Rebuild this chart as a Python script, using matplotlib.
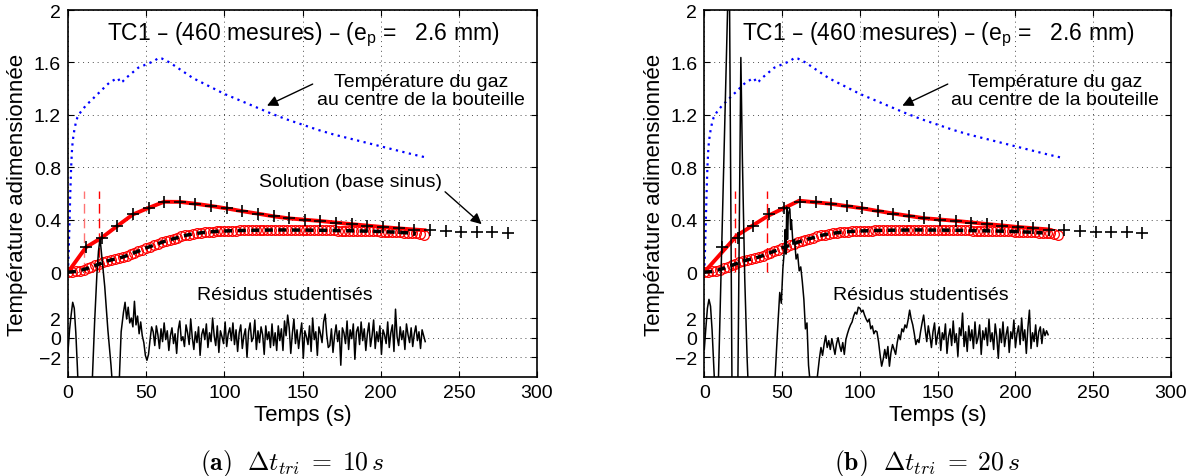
import matplotlib
matplotlib.use("Agg")
import matplotlib.pyplot as plt
import numpy as np

plt.rcParams['font.family'] = ['Liberation Sans', 'DejaVu Sans']

# gas temperature at bottle centre (blue dotted)
t_gaz = [0, 0.5, 1, 1.5, 2, 2.5, 3, 4, 5, 6, 8, 10, 12, 15, 18, 21, 24, 27, 30, 32,
         33.5, 35, 37, 40, 45, 50, 55, 58, 60, 65, 70, 75, 80, 90, 100, 110, 120,
         130, 140, 150, 160, 170, 180, 190, 200, 210, 220, 229]
T_gaz = [0, 0.18, 0.4, 0.62, 0.8, 0.92, 1.0, 1.08, 1.14, 1.18, 1.22, 1.25, 1.28, 1.31,
         1.35, 1.38, 1.42, 1.45, 1.47, 1.48, 1.445, 1.455, 1.48, 1.51, 1.56, 1.585,
         1.61, 1.635, 1.63, 1.6, 1.56, 1.52, 1.48, 1.42, 1.36, 1.31, 1.26, 1.21, 1.165,
         1.125, 1.085, 1.05, 1.02, 0.99, 0.96, 0.93, 0.9, 0.875]

# reference solution (black +)
t_plus = [11.5, 21.5, 31.5, 41.5, 51.5, 61.5, 71.5, 81.5, 91.5, 101.5, 111.5, 121.5,
          131.5, 141.5, 151.5, 161.5, 171.5, 181.5, 191.5, 201.5, 211.5, 221.5, 231.5,
          241.5, 251.5, 261.5, 271.5, 281.5]
T_plus = [0.19, 0.262, 0.352, 0.44, 0.49, 0.537, 0.536, 0.522, 0.505, 0.486, 0.465,
          0.446, 0.426, 0.41, 0.4, 0.39, 0.378, 0.366, 0.355, 0.344, 0.334, 0.325,
          0.318, 0.313, 0.309, 0.306, 0.304, 0.302]

# estimated solution (red line), panel a and b
t_sol_a = [0, 11.5, 21.5, 31.5, 41.5, 51.5, 61.5, 71.5, 81.5, 91.5, 101.5, 111.5, 121.5,
           131.5, 141.5, 151.5, 161.5, 171.5, 181.5, 191.5, 201.5, 211.5, 221.5, 228]
T_sol_a = [0, 0.19, 0.262, 0.352, 0.44, 0.49, 0.537, 0.536, 0.522, 0.505, 0.486, 0.465,
           0.446, 0.426, 0.41, 0.4, 0.39, 0.378, 0.366, 0.355, 0.344, 0.334, 0.325, 0.32]
t_sol_b = [0, 21, 41, 61, 81, 101, 121, 141, 161, 181, 201, 221]
T_sol_b = [0, 0.28, 0.43, 0.545, 0.522, 0.488, 0.448, 0.412, 0.392, 0.368, 0.345, 0.326]

# measurements (red circles), every 2.5 s
t_mes = np.arange(0, 230, 2.5)
T_mes = [0.000, 0.002, 0.006, 0.012, 0.020, 0.029, 0.040, 0.051, 0.062, 0.074,
         0.085, 0.093, 0.100, 0.107, 0.115, 0.126, 0.138, 0.149, 0.160, 0.172,
         0.185, 0.195, 0.205, 0.216, 0.228, 0.238, 0.247, 0.255, 0.263, 0.272,
         0.280, 0.286, 0.292, 0.296, 0.300, 0.304, 0.307, 0.309, 0.311, 0.313,
         0.314, 0.315, 0.316, 0.317, 0.318, 0.318, 0.319, 0.319, 0.320, 0.320,
         0.321, 0.321, 0.321, 0.322, 0.322, 0.322, 0.322, 0.322, 0.321, 0.321,
         0.321, 0.321, 0.320, 0.320, 0.320, 0.319, 0.319, 0.318, 0.318, 0.317,
         0.317, 0.316, 0.316, 0.315, 0.314, 0.314, 0.313, 0.312, 0.311, 0.311,
         0.310, 0.309, 0.307, 0.306, 0.305, 0.303, 0.301, 0.300, 0.298, 0.295,
         0.290, 0.284]

# studentized residuals, panel a
res_a_t = [0, 1, 2, 3, 4, 5, 6, 7, 8, 10, 12, 14, 15.5, 17, 18.5, 19.5, 20.5, 21.5,
           22.5, 23.5, 24.5, 25.5, 26.5, 27.5, 28.5, 30, 32, 33, 34, 35.5, 36.5, 37.5,
           38.5, 39.5, 40.5, 41.5, 42.5, 43.5, 44.5, 45.5, 46.5, 47.5, 48.5, 49.5,
           50.5, 51.5, 52.5, 53.5]
res_a_r = [-1.4, 0.8, 2.3, 3.6, 3.0, 0.5, -3, -7, -10, -12, -12, -9, -4.5, 1.5, 6.5,
           8.8, 10.1, 8.5, 6.8, 5.2, 3.0, 0.8, -1.0, -2.8, -5, -9, -8, -3.5, 0.6, 2.6,
           3.6, 1.9, 3.1, 1.5, 2.0, 1.1, 3.7, 1.3, 2.2, 0.4, 1.6, 0.2, -0.5, -1.8,
           -2.3, -1.7, -0.2, 1.1]
noise_a_t = np.arange(54.5, 229, 1.0)
noise_a_r = [0.6, -0.8, 1.2, 0.3, -1.1, 0.9, -0.4, 1.5, -0.2, 0.7,
             -1.3, 0.2, 1.0, -0.6, 0.4, -1.6, 0.8, 1.7, -0.3, 0.1,
             -0.9, 1.3, 0.5, -0.7, 1.9, 0.0, -1.2, 0.6, -0.5, 1.1,
             -1.8, 0.3, 0.9, -0.2, 1.4, -1.0, 0.5, -0.4, 2.0, 0.2,
             -0.8, 1.2, -1.5, 0.7, 0.1, -0.6, 1.6, -0.9, 0.4, 1.0,
             -0.3, 1.5, -0.7, 0.8, -1.4, 0.5, 1.3, -1.1, 0.2, 0.9,
             -2.0, 0.6, 1.5, -0.4, 0.0, 1.8, -1.2, 0.7, -0.5, 1.1,
             0.3, -1.7, 1.2, -0.2, 0.6, -1.0, 1.4, -0.8, 0.5, -1.3,
             1.2, -0.3, 0.9, -1.3, 1.7, 0.2, 2.3, 1.0, -1.6, 0.4,
             1.9, -0.6, 0.8, -1.1, 0.3, 1.5, -2.1, 0.7, 0.1, -0.7,
             1.2, -1.4, 2.0, -0.2, 0.6, -1.8, 1.1, 0.4, -0.5, 1.6,
             2.4, 0.3, -1.0, -0.8, 0.9, -1.5, 0.2, 1.3, -0.4, 0.7,
             -2.8, 1.0, 0.5, -0.6, 1.7, -1.2, 0.8, -0.1, 1.4, -2.2,
             0.6, 1.1, -0.7, 1.6, -0.3, 0.9, -1.3, 0.4, 1.5, -0.9,
             0.2, 1.8, -1.1, 0.6, -0.4, 1.2, -1.7, 0.8, 0.3, -0.6,
             1.6, -1.0, 0.5, 1.3, -1.4, 2.9, 0.1, -0.8, 1.1, -0.2,
             0.7, -1.2, 1.4, 0.3, -0.5, 1.0, -0.9, 0.4, 1.2, -0.3,
             0.6, -1.1, 0.8, 0.2, -0.4]

# studentized residuals, panel b
res_b_t = [0, 1, 2, 3, 4, 5, 6, 7, 8.5, 16, 18, 20, 21.5, 23, 23.5, 24.5, 26, 27.5, 29,
           32, 38, 43, 45.5, 47, 48.5, 49.5, 50.5, 51.5, 52, 52.5, 53, 53.5, 54, 55,
           55.5, 56, 57, 58, 59, 60, 61, 62, 63, 64, 65, 66, 67, 68, 70, 72.5, 74, 75,
           76, 77, 78, 79, 80, 81, 82, 83, 84, 85, 86, 87, 88, 89, 90, 91, 92, 93, 94,
           95, 96, 97, 98, 99, 100, 101, 102, 103, 104, 105, 106, 107, 108, 109, 110,
           111, 112, 113, 114, 115, 116, 117, 118, 119, 120, 121, 122, 123, 124, 125,
           126, 127, 128, 129, 130, 131, 132, 133, 134, 135, 136, 137, 138, 139, 140,
           141]
res_b_r = [-1.2, 1.0, 3.0, 3.9, 3.2, 0.8, -2.5, -6, -8, 40, -10, -12, -6, 20, 28.5, 18,
           6, -2, -8, -14, -14, -10, -4, 0.5, 4.6, 3.5, 7, 9, 11, 8.5, 13.3, 10, 12.6,
           13.1, 11, 12, 9.5, 10, 8, 8.5, 6.8, 7.2, 5.7, 3.9, 0.9, 1.5, -2.8, -4.5, -6,
           -4.2, -2.1, -1.0, -1.8, -0.7, 0.2, -1.0, -0.3, -1.2, -0.1, -0.9, -1.7, -0.6,
           0.0, -0.8, -1.4, -0.5, -1.7, -0.2, 0.4, 0.9, 1.3, 1.6, 2.2, 2.6, 2.4, 3.1,
           3.0, 2.6, 2.8, 2.3, 1.9, 1.6, 1.9, 0.9, 1.2, 0.4, 0.7, 0.6, -0.4, -1.75,
           -2.9, -2.2, -1.2, -2.1, -0.9, -2.9, -1.5, -0.7, -1.2, -1.7, -0.5, 0.3, -0.2,
           0.9, 0.6, 1.3, 1.0, 1.8, 2.8, 1.9, 1.3, 0.4, -0.7, -0.2, -0.5, 0.6, 1.5, 2.3]
noise_b_t = np.arange(142, 222, 1.0)
noise_b_r = [0.8, -0.4, 1.2, 0.2, -1.0, 0.6, 1.5, -0.7, 0.3, 1.1,
             -1.3, 0.5, -0.2, 1.4, -1.6, 0.1, 0.9, -0.8, 1.7, -0.5,
             0.4, -1.9, 1.0, 0.2, 2.5, -0.9, 0.6, -1.4, 1.2, -0.3,
             0.8, -1.1, 1.6, -0.6, 0.0, 1.3, -1.7, 0.7, -0.2, 1.0,
             -0.8, 1.9, -0.4, 0.5, -1.2, 1.4, 0.1, -2.1, 0.9, -0.5,
             1.6, -0.9, 0.3, 1.1, -1.5, 0.6, -0.1, 1.8, -1.0, 0.4,
             1.2, -0.7, 2.0, -0.3, 0.8, -1.6, 1.0, 2.8, -1.1, 0.5,
             -0.4, 1.3, -0.9, 0.6, 1.1, -0.6, 0.9, 0.2, 0.7, 0.3]

res_offset = -0.5
res_scale = 0.075


def draw_panel(ax, t_sol, T_sol, t_tri, res_t, res_r, mes_end, with_solution_label):
    ax.set_xlim(0, 300)
    ax.set_ylim(-0.8, 2)
    yt = [res_offset - 2 * res_scale, res_offset, res_offset + 2 * res_scale,
          0, 0.4, 0.8, 1.2, 1.6, 2]
    ax.set_yticks(yt)
    ax.set_yticklabels(['\u22122', '0', '2', '0', '0.4', '0.8', '1.2', '1.6', '2'])
    ax.set_xticks([0, 50, 100, 150, 200, 250, 300])
    ax.tick_params(direction='in', length=4, width=0.8, top=True, right=True,
                   labelsize=14, pad=5)
    ax.grid(True, color='0.3', linestyle=(0, (1, 4)), linewidth=0.7)
    ax.set_axisbelow(True)
    for s in ax.spines.values():
        s.set_linewidth(1.2)

    ax.plot(t_gaz, T_gaz, color='blue', linestyle=(0, (1, 2)), linewidth=1.6)

    for k, tv in enumerate(t_tri):
        ax.plot([tv, tv], [0, 0.62], color='red', linestyle=(0, (7, 3.6)), lw=1,
                alpha=0.55 if (k == 0 and with_solution_label) else 1)

    ax.plot(t_sol, T_sol, color='red', lw=2.8, solid_joinstyle='round')
    ax.plot(t_mes, T_mes, 'o', mfc='none', mec='red', ms=7, mew=0.9)
    n = int(mes_end / 2.5)
    ax.plot(t_mes[:n], T_mes[:n], color='black', linestyle=(0, (2.3, 1.6)), lw=2.5)
    ax.plot(t_plus, T_plus, '+', color='black', ms=8, mew=1.2)

    ax.plot(res_t, res_offset + res_scale * np.array(res_r), color='black', lw=1.1)

    ax.text(150.6, 1.78, "TC1 \u2013 (460 mesures) \u2013 (e$_\\mathregular{p}$ =   2.6 mm)",
            ha='center', va='baseline', fontsize=16.5)
    ax.text(225.7, 1.387, "Température du gaz\nau centre de la bouteille",
            ha='center', va='center', multialignment='center', fontsize=14,
            linespacing=1.1)
    ax.annotate('', xy=(127.3, 1.27), xytext=(156.5, 1.435),
                arrowprops=dict(arrowstyle='-|>', color='black', lw=1,
                                mutation_scale=16, shrinkA=0, shrinkB=0))
    if with_solution_label:
        ax.text(181, 0.656, "Solution (base sinus)", ha='center', va='baseline',
                fontsize=14)
        ax.annotate('', xy=(264.6, 0.366), xytext=(241.2, 0.613),
                    arrowprops=dict(arrowstyle='-|>', color='black', lw=1,
                                    mutation_scale=16, shrinkA=0, shrinkB=0))
    ax.text(139, -0.206, "Résidus studentisés", ha='center', va='baseline',
            fontsize=14)
    ax.set_xlabel("Temps (s)", fontsize=16, labelpad=2)
    ax.set_ylabel("Température adimensionnée", fontsize=16, labelpad=4)


fig = plt.figure(figsize=(11.95, 4.77), dpi=100)
axA = fig.add_axes([68 / 1195, 1 - 378 / 477, 469 / 1195, 367 / 477])
axB = fig.add_axes([704.3 / 1195, 1 - 378 / 477, 466.7 / 1195, 367 / 477])

draw_panel(axA, t_sol_a, T_sol_a, [10, 20],
           list(res_a_t) + list(noise_a_t), res_a_r + noise_a_r, 225, True)
draw_panel(axB, t_sol_b, T_sol_b, [20, 40],
           list(res_b_t) + list(noise_b_t), res_b_r + noise_b_r, 220, False)

fig.text(292.5 / 1195, 1 - 470 / 477,
         r"$\mathbf{(a)}\ \ \Delta t_{tri}\;=\;10\,s$",
         ha='center', va='baseline', fontsize=18.5, math_fontfamily='cm')
fig.text(927.5 / 1195, 1 - 470 / 477,
         r"$\mathbf{(b)}\ \ \Delta t_{tri}\;=\;20\,s$",
         ha='center', va='baseline', fontsize=18.5, math_fontfamily='cm')

fig.savefig("out.png", dpi=100)
